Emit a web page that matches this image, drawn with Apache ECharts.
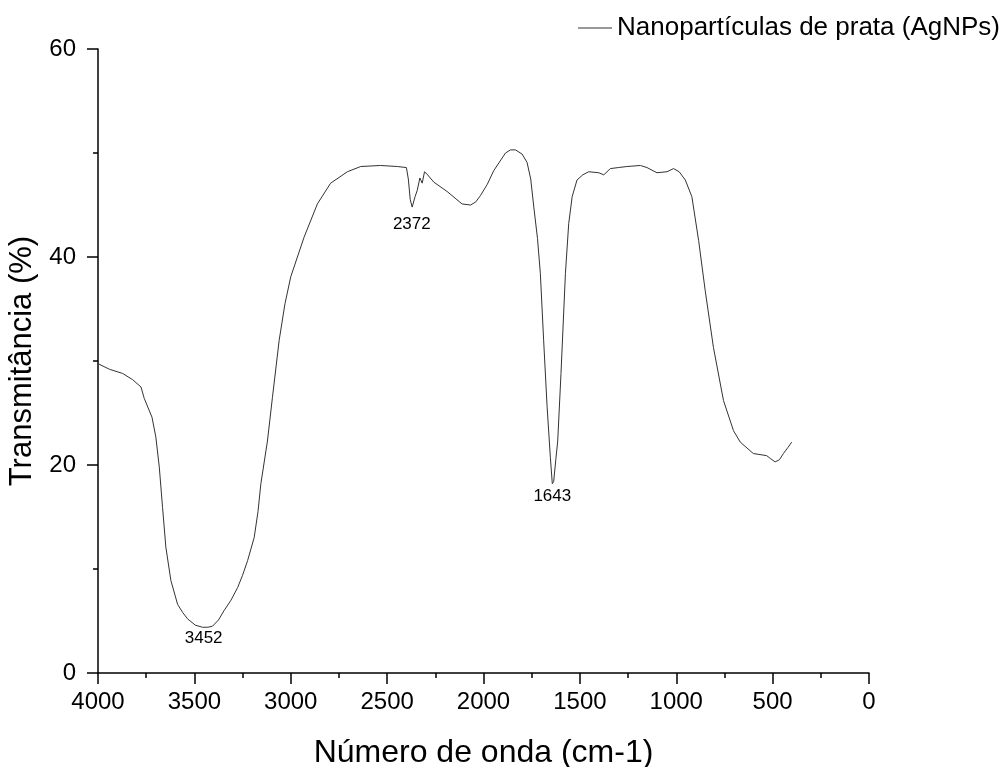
<!DOCTYPE html>
<html>
<head>
<meta charset="utf-8">
<script src="https://cdn.jsdelivr.net/npm/echarts@6/dist/echarts.min.js"></script>
<style>
  html, body { margin: 0; padding: 0; background: #fff; }
  #chart { width: 1008px; height: 767px; }
</style>
</head>
<body>
<div id="chart"></div>
<script>
// espectro FTIR
var wavenumber = [
  3995, 3940, 3872, 3820, 3777, 3760, 3720, 3700, 3682, 3665, 3648, 3622, 3587, 3560, 3535, 3495,
  3458, 3430, 3406, 3375, 3346, 3310, 3276, 3250, 3224, 3190, 3170, 3155, 3121, 3095, 3060, 3030,
  3000, 2931, 2862, 2793, 2706, 2637, 2534, 2447, 2400, 2390, 2380, 2370, 2355, 2344, 2330, 2318,
  2306, 2290, 2258, 2189, 2111, 2067, 2040, 2016, 1980, 1947, 1886, 1860, 1834, 1800, 1774, 1755,
  1739, 1720, 1705, 1688, 1670, 1653, 1643, 1636, 1625, 1615, 1598, 1575, 1558, 1540, 1515, 1485,
  1454, 1402, 1376, 1342, 1300, 1256, 1186, 1152, 1100, 1048, 1014, 985, 953, 919, 884, 850,
  807, 755, 703, 668, 600, 531, 510, 487, 465, 444, 420, 401
];
var transmittance = [
  29.7, 29.2, 28.8, 28.2, 27.5, 26.4, 24.6, 22.7, 19.8, 15.9, 12.1, 8.9, 6.6, 5.8, 5.2, 4.6,
  4.4, 4.4, 4.5, 5.1, 6.0, 7.0, 8.2, 9.4, 10.8, 13.0, 15.5, 18.2, 22.3, 26.5, 32.0, 35.5,
  38.1, 41.9, 45.1, 47.1, 48.2, 48.7, 48.8, 48.7, 48.6, 47.5, 45.5, 44.8, 45.8, 46.4, 47.6, 47.1,
  48.2, 47.9, 47.2, 46.3, 45.1, 45.0, 45.3, 45.9, 47.0, 48.3, 50.0, 50.3, 50.3, 49.9, 49.1, 47.5,
  44.8, 41.8, 38.4, 32.0, 25.6, 20.7, 18.2, 18.4, 20.5, 22.3, 28.8, 38.4, 43.2, 45.8, 47.4, 47.9,
  48.2, 48.1, 47.9, 48.5, 48.6, 48.7, 48.8, 48.6, 48.1, 48.2, 48.5, 48.2, 47.4, 45.8, 41.6, 36.8,
  31.3, 26.2, 23.3, 22.2, 21.1, 20.9, 20.6, 20.3, 20.5, 21.1, 21.7, 22.2
];
// picos anotados
var peakPos = [3452, 2372, 1643];
var peakVal = [4.4, 44.8, 18.2];
var peakGap = [3, 9, 4];

var seriesData = [];
for (var i = 0; i < wavenumber.length; i++) {
  seriesData.push([wavenumber[i], transmittance[i]]);
}
var peaks = [];
for (var j = 0; j < peakPos.length; j++) {
  peaks.push({
    coord: [peakPos[j], peakVal[j]],
    value: String(peakPos[j]),
    label: { distance: peakGap[j] }
  });
}

var font = 'Liberation Sans, Arial, sans-serif';
var chart = echarts.init(document.getElementById('chart'));
chart.setOption({
  backgroundColor: '#fff',
  animation: false,
  textStyle: { fontFamily: font, color: '#000' },
  grid: { left: 98, right: 139, top: 49, bottom: 94, containLabel: false, outerBoundsMode: 'none' },
  legend: {
    right: 3,
    top: 10,
    icon: 'rect',
    itemWidth: 34,
    itemHeight: 1,
    itemGap: 0,
    textStyle: { fontSize: 26, color: '#000', fontFamily: font },
    data: ['Nanopartículas de prata (AgNPs)']
  },
  xAxis: {
    type: 'value',
    inverse: true,
    min: 0,
    max: 4000,
    interval: 500,
    name: 'Número de onda (cm-1)',
    nameLocation: 'middle',
    nameGap: 64,
    nameTextStyle: { fontSize: 32, color: '#000', fontFamily: font },
    axisLine: { lineStyle: { color: '#000', width: 1.5 } },
    axisTick: { length: 11, lineStyle: { color: '#000', width: 1.5 } },
    minorTick: { show: true, splitNumber: 2, length: 5, lineStyle: { color: '#000', width: 1.5 } },
    axisLabel: {
      fontSize: 24, color: '#000', margin: 17, fontFamily: font,
      formatter: function (v) { return String(v); }
    },
    splitLine: { show: false }
  },
  yAxis: {
    type: 'value',
    min: 0,
    max: 60,
    interval: 20,
    name: 'Transmitância (%)',
    nameLocation: 'middle',
    nameGap: 51,
    nameTextStyle: { fontSize: 31, color: '#000', fontFamily: font },
    axisLine: { show: true, onZero: false, lineStyle: { color: '#000', width: 1.5 } },
    axisTick: { show: true, length: 11, lineStyle: { color: '#000', width: 1.5 } },
    minorTick: { show: true, splitNumber: 2, length: 5, lineStyle: { color: '#000', width: 1.5 } },
    axisLabel: { fontSize: 24, color: '#000', margin: 22, fontFamily: font },
    splitLine: { show: false }
  },
  series: [{
    name: 'Nanopartículas de prata (AgNPs)',
    type: 'line',
    symbol: 'none',
    data: seriesData,
    lineStyle: { color: '#333', width: 1 },
    itemStyle: { color: '#333' },
    markPoint: {
      symbol: 'circle',
      symbolSize: 0,
      label: {
        show: true,
        position: 'bottom',
        fontSize: 17,
        color: '#000',
        fontFamily: font,
        formatter: '{c}'
      },
      data: peaks
    }
  }]
});
</script>
</body>
</html>
